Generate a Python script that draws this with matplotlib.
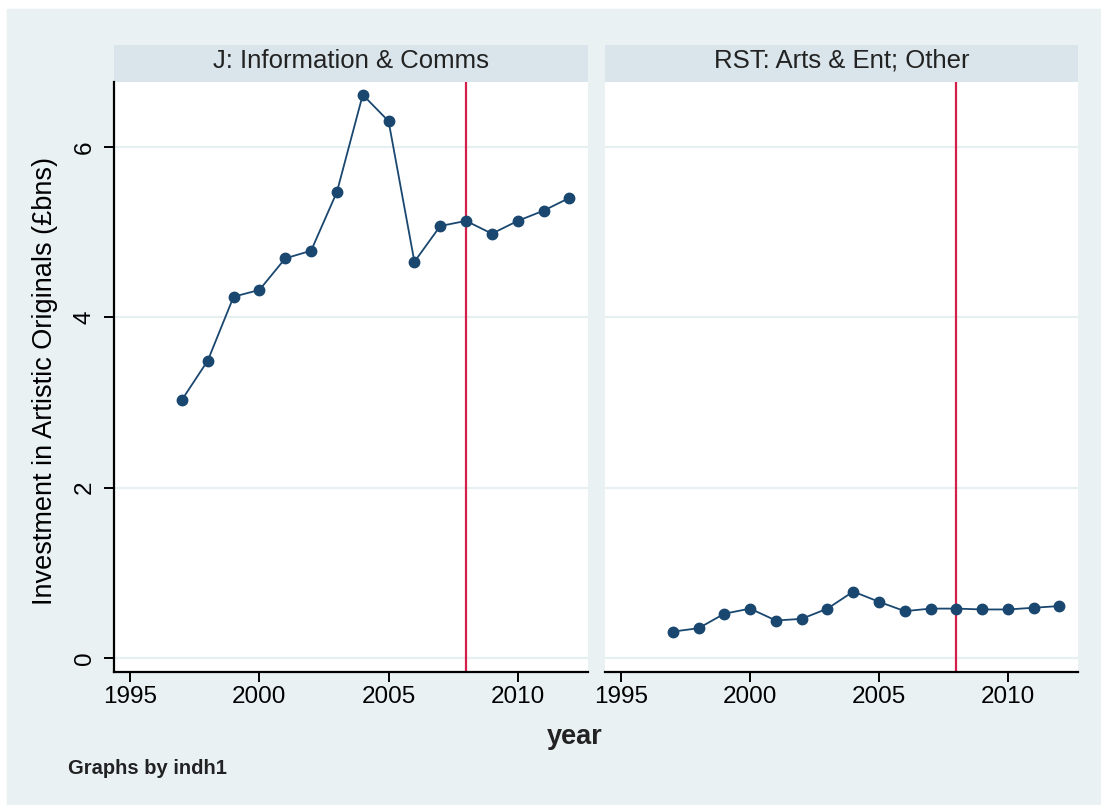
import numpy as np
import matplotlib
matplotlib.use("Agg")
import matplotlib.pyplot as plt
from matplotlib.patches import Rectangle

# Data
years = list(range(1997, 2013))
info_comms = [3.03, 3.49, 4.24, 4.32, 4.69, 4.78, 5.47, 6.61,
              6.30, 4.65, 5.07, 5.13, 4.98, 5.13, 5.25, 5.40]
arts_ent = [0.31, 0.35, 0.52, 0.58, 0.44, 0.46, 0.58, 0.78,
            0.66, 0.55, 0.58, 0.58, 0.57, 0.57, 0.59, 0.61]
panel_titles = ["J: Information & Comms", "RST: Arts & Ent; Other"]
x_ticks = [1995, 2000, 2005, 2010]
y_ticks = [0, 2, 4, 6]
break_year = 2008

NAVY = "#1a476f"
RED = "#d3204a"
BG = "#e9f1f3"
STRIP = "#d9e5ea"
GRID = "#e6eff2"

plt.rcParams["font.family"] = ["Liberation Sans", "DejaVu Sans"]

W, H = 1101, 805
fig = plt.figure(figsize=(W / 100, H / 100), dpi=100)
fig.patch.set_facecolor("white")
fig.patches.append(Rectangle((7 / W, 0), 1 - 7 / W, 1 - 9 / H,
                             transform=fig.transFigure, color=BG, zorder=-10))


def px_box(x0, y0, x1, y1):
    return [x0 / W, 1 - y1 / H, (x1 - x0) / W, (y1 - y0) / H]


panels = [(114, 588, info_comms), (605, 1078, arts_ent)]
for i, (x0, x1, vals) in enumerate(panels):
    # strip title
    sax = fig.add_axes(px_box(x0, 45, x1, 82))
    sax.set_facecolor(STRIP)
    sax.set_xticks([])
    sax.set_yticks([])
    for s in sax.spines.values():
        s.set_visible(False)
    sax.text(0.5, 0.58, panel_titles[i], ha="center", va="center",
             fontsize=18.5, color="#222222", transform=sax.transAxes)

    ax = fig.add_axes(px_box(x0, 82, x1, 672))
    ax.set_facecolor("white")
    ax.set_xlim(1994.37, 2012.72)
    ax.set_ylim(-0.164, 6.76)
    for y in y_ticks:
        ax.axhline(y, color=GRID, lw=1.6, zorder=0)
    ax.axvline(break_year, color=RED, lw=1.6, zorder=1)
    ax.plot(years, vals, color=NAVY, lw=1.3, marker="o", ms=7.5,
            mec=NAVY, mfc=NAVY, zorder=3)

    ax.spines["top"].set_visible(False)
    ax.spines["right"].set_visible(False)
    ax.spines["bottom"].set_linewidth(1.6)
    ax.spines["left"].set_linewidth(1.6)
    ax.set_xticks(x_ticks)
    ax.tick_params(axis="x", length=7, width=1.4, labelsize=17.5, pad=3)
    if i == 0:
        ax.set_yticks(y_ticks)
        ax.set_yticklabels([str(v) for v in y_ticks], rotation=90, va="center")
        ax.tick_params(axis="y", length=7, width=1.4, labelsize=17.5, pad=6)
        ax.set_ylabel("Investment in Artistic Originals (£bns)", fontsize=19.5)
        ax.yaxis.set_label_coords(-0.118, 0.493)
    else:
        ax.spines["left"].set_visible(False)
        ax.set_yticks([])

fig.text(575 / W, 1 - 737 / H, "year", ha="center", va="center",
         fontsize=19.5, fontweight="bold", color="#222222")
fig.text(68 / W, 1 - 768 / H, "Graphs by indh1", ha="left", va="center",
         fontsize=14.5, fontweight="bold", color="#222222")

fig.savefig("out.png", dpi=100, facecolor=fig.get_facecolor())
